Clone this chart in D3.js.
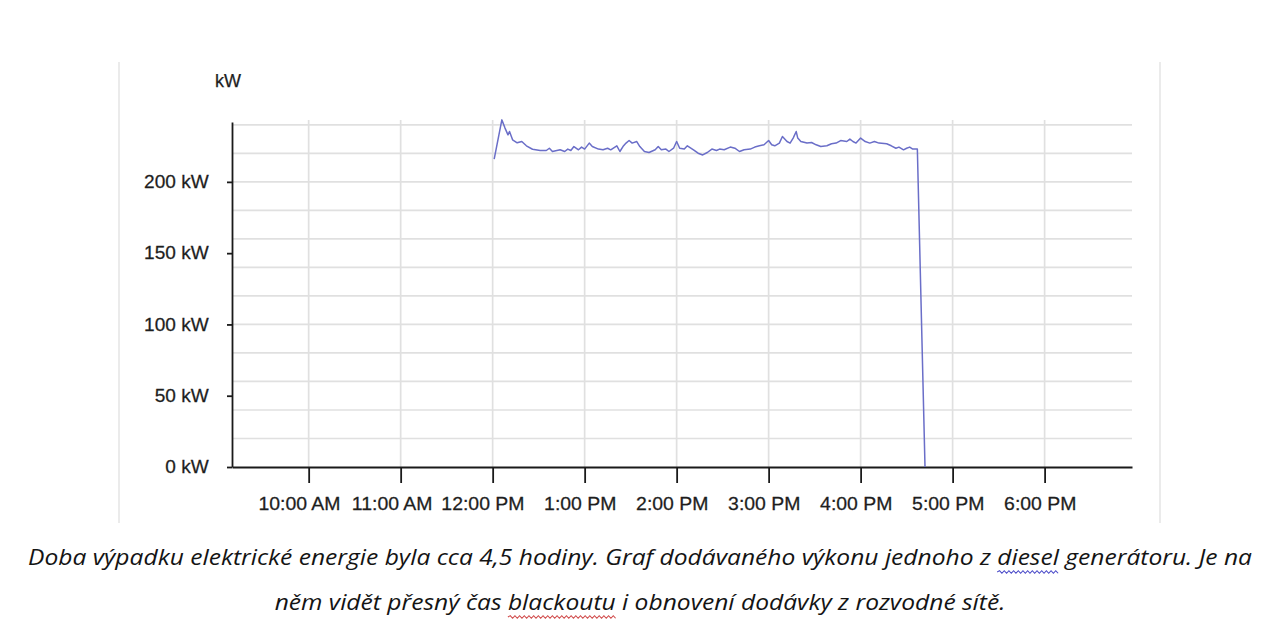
<!DOCTYPE html>
<html>
<head>
<meta charset="utf-8">
<script src="https://cdn.jsdelivr.net/npm/d3@7"></script>
<style>
  html, body { margin: 0; padding: 0; background: #fff; }
  svg { display: block; }
</style>
</head>
<body>
<svg id="chart" width="1280" height="644"></svg>
<script>
// ---- data ----
const times = ["12:01","12:06","12:08","12:10","12:11","12:13","12:16","12:19","12:22","12:26",
"12:31","12:35","12:37","12:39","12:44","12:47","12:49","12:51","12:53","12:56",
"12:58","13:00","13:03","13:05","13:09","13:12","13:15","13:17","13:21","13:23",
"13:25","13:27","13:29","13:31","13:34","13:36","13:39","13:42","13:46","13:48",
"13:50","13:53","13:55","13:58","14:00","14:02","14:05","14:07","14:11","14:14",
"14:17","14:20","14:23","14:26","14:28","14:31","14:35","14:38","14:41","14:44",
"14:48","14:51","14:54","14:57","15:00","15:02","15:04","15:07","15:09","15:12",
"15:14","15:16","15:18","15:19","15:21","15:25","15:28","15:31","15:34","15:38",
"15:41","15:44","15:47","15:51","15:53","15:55","15:57","16:00","16:03","16:06",
"16:09","16:12","16:17","16:20","16:23","16:25","16:28","16:30","16:32","16:34",
"16:37","16:42"];
const powerKw = [215.9,243.5,237.9,233.0,235.3,229.5,227.4,228.3,225.3,222.9,
222.0,222.0,223.6,221.3,222.5,221.3,223.0,222.0,224.8,222.5,
224.4,223.0,227.2,224.8,223.0,222.5,223.6,222.5,225.3,221.3,
224.8,227.2,229.0,227.2,228.3,224.8,221.3,220.6,222.5,224.8,
222.5,223.0,221.3,223.6,228.3,223.6,223.0,225.3,222.5,220.1,
218.9,220.6,223.0,222.0,223.0,222.5,224.4,223.6,221.3,222.5,
223.0,224.4,225.3,226.0,229.0,226.0,225.3,227.2,231.8,228.3,
227.2,230.7,235.3,230.7,228.3,227.2,227.6,226.0,224.8,225.3,
226.7,227.2,229.0,228.3,230.0,228.3,227.2,230.7,228.3,227.2,
228.3,227.2,226.7,225.3,223.6,224.4,222.5,223.6,224.4,223.0,
223.0,0];
const xTickTimes = ["10:00","11:00","12:00","13:00","14:00","15:00","16:00","17:00","18:00"];
const xDomainTimes = ["09:10","18:57"];
const yTicks = [0,50,100,150,200];
const yGrid = [20,40,60,80,100,120,140,160,180,200,220,240];
const yMax = 242;
const unitLabel = "kW";
const captionLine1 = "Doba výpadku elektrické energie byla cca 4,5 hodiny. Graf dodávaného výkonu jednoho z diesel generátoru. Je na";
const captionLine2 = "něm vidět přesný čas blackoutu i obnovení dodávky z rozvodné sítě.";

(function () {
const parseT = d3.timeParse("%Y-%m-%d %H:%M");
const toDate = s => parseT("2024-01-01 " + s);
const data = times.map((t, i) => ({ t: toDate(t), v: powerKw[i] }));

const svg = d3.select("#chart");
const pL = 232, pR = 1132, pT = 122, pB = 467;

const x = d3.scaleTime().domain(xDomainTimes.map(toDate)).range([pL, pR]);
const y = d3.scaleLinear().domain([0, yMax]).range([pB, pT]);

// frame lines (left/right light borders)
svg.append("line").attr("x1", 119).attr("x2", 119).attr("y1", 62).attr("y2", 523)
  .attr("stroke", "#ebebeb").attr("stroke-width", 2);
svg.append("line").attr("x1", 1160).attr("x2", 1160).attr("y1", 62).attr("y2", 523)
  .attr("stroke", "#ebebeb").attr("stroke-width", 2);

// gridlines
const grid = svg.append("g").attr("class", "grid");
grid.selectAll("line.h").data(yGrid).join("line").attr("class", "h")
  .attr("x1", pL).attr("x2", pR)
  .attr("y1", d => y(d)).attr("y2", d => y(d))
  .attr("stroke", "#e0e0e0").attr("stroke-width", 1.7);
grid.selectAll("line.v").data(xTickTimes.map(toDate)).join("line").attr("class", "v")
  .attr("x1", d => x(d)).attr("x2", d => x(d))
  .attr("y1", pB).attr("y2", 120)
  .attr("stroke", "#e0e0e0").attr("stroke-width", 1.7);

// axes
const fmt = d3.timeFormat("%-I:%M %p");
const xAxis = svg.append("g").attr("transform", `translate(0,${pB})`)
  .call(d3.axisBottom(x).tickValues(xTickTimes.map(toDate)).tickFormat(fmt)
    .tickSize(16).tickPadding(14).tickSizeOuter(0));
const yAxis = svg.append("g").attr("transform", `translate(${pL},0)`)
  .call(d3.axisLeft(y).tickValues(yTicks).tickFormat(d => d + " " + unitLabel)
    .tickSize(5).tickPadding(17).tickSizeOuter(0));

[xAxis, yAxis].forEach(g => {
  g.selectAll(".domain").attr("stroke", "#1a1a1a").attr("stroke-width", 1.8);
  g.selectAll(".tick line").attr("stroke", "#1a1a1a").attr("stroke-width", 1.8);
  g.selectAll(".tick text")
    .attr("font-family", "'Liberation Sans', Arial, sans-serif")
    .attr("font-size", 18).attr("fill", "#1e1e1e")
    .attr("stroke", "#1e1e1e").attr("stroke-width", 0.25);
});
// labels right-aligned just past the tick, as in the reference
xAxis.selectAll(".tick text").attr("text-anchor", "end").attr("x", 29)
  .attr("transform", "scale(1.08,1)");
yAxis.selectAll(".tick text").attr("transform", "scale(1.06,1)");

// unit label
svg.append("text").attr("x", 215).attr("y", 87).text(unitLabel)
  .attr("font-family", "'Liberation Sans', Arial, sans-serif")
  .attr("font-size", 18).attr("fill", "#1e1e1e")
  .attr("stroke", "#1e1e1e").attr("stroke-width", 0.25);

// line
const line = d3.line().x(d => x(d.t)).y(d => y(d.v));
svg.append("path").datum(data).attr("d", line)
  .attr("fill", "none").attr("stroke", "#6a6ec8").attr("stroke-width", 1.5)
  .attr("stroke-linejoin", "round");

// caption
function wave(x0, x1, yy) {
  let p = `M${x0},${yy}`;
  let up = true;
  for (let xx = x0 + 2; xx <= x1; xx += 2) { p += `L${xx},${yy + (up ? -1.3 : 1.3)}`; up = !up; }
  return p;
}
function caption(text, baseline, scale, underlines) {
  const g = svg.append("g");
  const t = g.append("text").attr("x", 0).attr("y", 0).text(text)
    .attr("font-family", "'Open Sans', sans-serif").attr("font-style", "italic")
    .attr("font-size", 21).attr("fill", "#141414");
  const L = t.node().getComputedTextLength();
  g.attr("transform", `translate(${640 - scale * L / 2},${baseline}) scale(${scale},1)`);
  (underlines || []).forEach(u => {
    const i = text.indexOf(u.word);
    const n = t.node();
    const a = n.getStartPositionOfChar(i).x;
    const b = n.getEndPositionOfChar(i + u.word.length - 1).x;
    g.append("path").attr("d", wave(a, b, 7)).attr("fill", "none")
      .attr("stroke", u.color).attr("stroke-width", 0.9);
  });
  return L;
}
const tmp = svg.append("text").text(captionLine1)
  .attr("font-family", "'Open Sans', sans-serif").attr("font-style", "italic").attr("font-size", 21);
const L1 = tmp.node().getComputedTextLength();
tmp.remove();
const sc = 1224 / L1;
caption(captionLine1, 565, sc, [{ word: "diesel", color: "#4a4ac8" }]);
caption(captionLine2, 610, sc, [{ word: "blackoutu", color: "#d04a4a" }]);
})();
</script>
</body>
</html>
